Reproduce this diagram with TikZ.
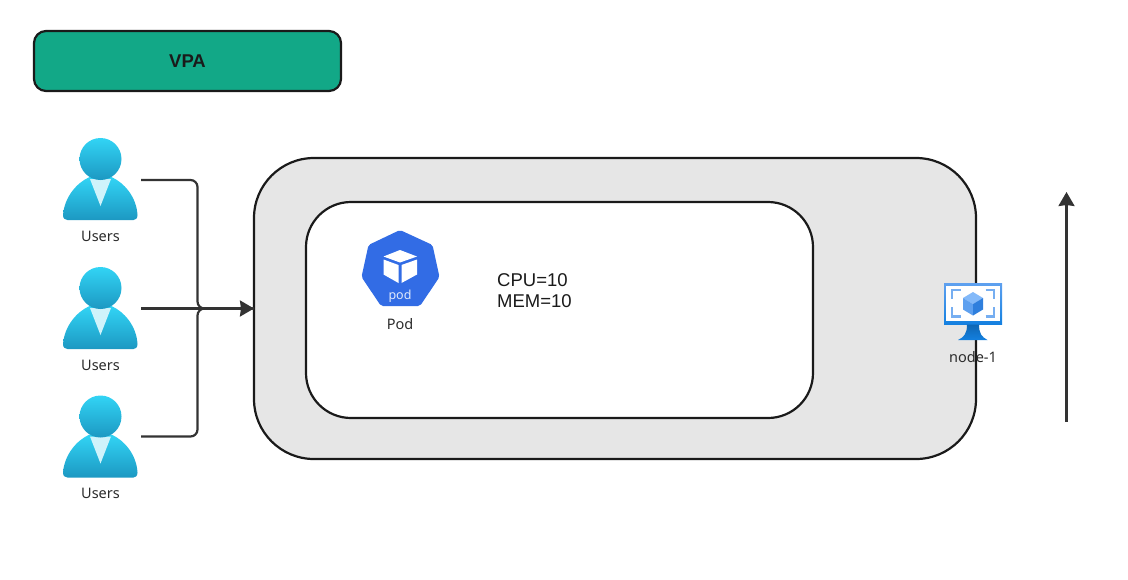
\documentclass[tikz,border=0pt]{standalone}
\usepackage{fontspec}
\setmainfont{Noto Sans}
\newfontfamily\specfont{Liberation Sans}
\usetikzlibrary{arrows.meta}

\definecolor{vpagreen}{HTML}{12A887}
\definecolor{nodegray}{HTML}{E6E6E6}
\definecolor{edgeblack}{HTML}{1A1A1A}
\definecolor{wiregray}{HTML}{333333}
\definecolor{podblue}{HTML}{326CE5}
\definecolor{labelgray}{HTML}{2B2B2B}
\definecolor{usertop}{HTML}{32D4F5}
\definecolor{userbottom}{HTML}{1C98C2}
\definecolor{usertie}{HTML}{CFF3FB}
\definecolor{screentop}{HTML}{5EA0EF}
\definecolor{screenbottom}{HTML}{1380E0}
\definecolor{cubelight}{HTML}{83B9F9}
\definecolor{cubedark}{HTML}{2F7FDD}

\tikzset{
  box/.style={draw=edgeblack, line width=2.2, outer sep=0pt},
  wire/.style={draw=wiregray, line width=2.2, rounded corners=7},
  wirehead/.style={-{Stealth[length=14,width=16,inset=1]}},
  caption/.style={text=labelgray, font=\fontsize{14.5}{18}\selectfont, inner sep=0pt},
  pics/usericon/.style={code={
    \path[top color=usertop, bottom color=userbottom] (-37.5,56) .. controls (-36,38) and (-24,24) .. (-11,18) -- (11,18) .. controls (24,24) and (36,38) .. (37,56) .. controls (37,59.5) and (35,61) .. (33,61) -- (-33,61) .. controls (-35.5,61) and (-37.5,59.5) .. cycle;
    \fill[usertie] (-10.5,20) -- (10.5,20) -- (0,47) -- cycle;
    \path[top color=usertop, bottom color=userbottom] (0,0) circle (21);
  }}
}

\begin{document}
\begin{tikzpicture}[x=1pt, y=-1pt]
\useasboundingbox (0,0) rectangle (1128,579);

\node[box, fill=vpagreen, rounded corners=12, minimum width=307, minimum height=60, font=\specfont\fontsize{18.5}{22}\selectfont\bfseries, text=edgeblack] (vpa) at (187.5,61) {VPA};

\node[box, fill=nodegray, rounded corners=60, minimum width=722, minimum height=301] (nodebox) at (615,308.5) {};
\node[box, fill=white, rounded corners=45, minimum width=507, minimum height=216] (podbox) at (559.5,310) {};

% users
\pic at (100.5,159) {usericon};
\pic at (100.5,288) {usericon};
\pic at (100.5,416.5) {usericon};
\node[caption] (users1) at (100.5,236) {Users};
\node[caption] (users2) at (100.5,365) {Users};
\node[caption] (users3) at (100.5,493) {Users};

\coordinate (out1) at (141,180);
\coordinate (out2) at (141,308.5);
\coordinate (out3) at (141,436.5);
\coordinate (bus) at (197.5,308.5);

\draw[wire] (out1) -| (bus) -- (nodebox.west);
\draw[wire] (out3) -| (bus) -- (nodebox.west);
\draw[wire, wirehead] (out2) -- (nodebox.west);

% pod
\fill[podblue, rounded corners=2] (400,230) -- (432.5,245) -- (439.5,277) -- (420,306) -- (381,306) -- (361.5,277) -- (368.5,245) -- cycle;
\fill[white] (400,250) -- (417,256.5) -- (400,262.5) -- (383.5,256.5) -- cycle;
\fill[white] (383.5,259.5) -- (398.5,265) -- (398.5,283) -- (383.5,274.5) -- cycle;
\fill[white] (417,259.5) -- (401.5,265) -- (401.5,283) -- (417,274.5) -- cycle;
\node[text=white!85!podblue, font=\fontsize{12.5}{15}\selectfont, inner sep=0pt] (podtext) at (400,296) {pod};
\node[caption] (podlabel) at (400,324.5) {Pod};

\node[inner sep=0pt, align=left, anchor=west, text=edgeblack, font=\specfont\fontsize{18.5}{21.5}\selectfont] (limits) at (497,290.5) {CPU=10\\MEM=10};

% node icon
\path[top color=screentop, bottom color=screenbottom] (944,283.5) rectangle (1002,324.5);
\fill[white] (946,286) rectangle (1000,320.5);
\path[top color=screenbottom!80!black, bottom color=screenbottom] (967,324.5) -- (979,324.5) .. controls (979,334) and (982,337) .. (987.5,340) -- (958,340) .. controls (964,337) and (967,334) .. cycle;
\draw[screentop!85!white, line width=2.5] (960.5,290) -- (952,290) -- (952,299);
\draw[screentop!85!white, line width=2.5] (985.5,290) -- (994,290) -- (994,299);
\draw[screentop!85!white, line width=2.5] (960.5,316.5) -- (952,316.5) -- (952,307);
\draw[screentop!85!white, line width=2.5] (985.5,316.5) -- (994,316.5) -- (994,307);
\fill[cubelight] (973,292) -- (983,298) -- (973,304) -- (963,298) -- cycle;
\fill[screentop] (963,298) -- (973,304) -- (973,315.5) -- (963,309.5) -- cycle;
\fill[cubedark] (983,298) -- (973,304) -- (973,315.5) -- (983,309.5) -- cycle;
\node[caption] (nodelabel) at (973,357) {node-1};

% scale arrow
\coordinate (scalefrom) at (1066.5,421.5);
\coordinate (scaleto) at (1066.5,192);
\draw[wire, wirehead] (scalefrom) -- (scaleto);
\end{tikzpicture}
\end{document}
